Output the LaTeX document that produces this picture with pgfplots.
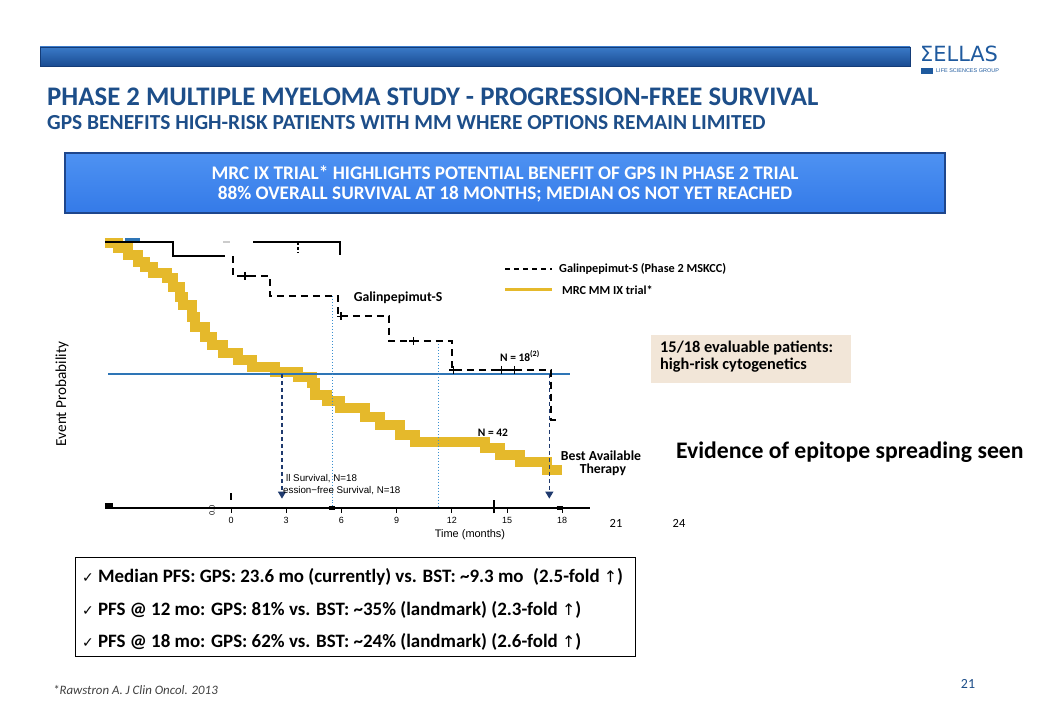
\documentclass[border=0pt]{standalone}
\usepackage{pgfplots}
\pgfplotsset{compat=1.18}
\usepackage{fontspec}
\setmainfont{Carlito}
\newfontfamily\hv{Liberation Sans}
\newfontfamily\dejavu{DejaVu Sans}
\usetikzlibrary{arrows.meta}
\definecolor{titleblue}{HTML}{1D4E89}
\definecolor{logoblue}{RGB}{31,90,158}
\definecolor{bannertop}{RGB}{58,122,200}
\definecolor{bannerbot}{RGB}{26,76,146}
\definecolor{bannerline}{RGB}{20,60,120}
\definecolor{boxtop}{RGB}{78,146,242}
\definecolor{boxbot}{RGB}{52,122,232}
\definecolor{boxline}{RGB}{30,70,140}
\definecolor{mrcyellow}{HTML}{E5B92B}
\definecolor{medblue}{HTML}{2E75B6}
\definecolor{dotblue}{HTML}{3A8FD0}
\definecolor{navy}{HTML}{1F3A6E}
\definecolor{beige}{HTML}{F2E6D8}
\newcommand\fs[1]{\fontsize{#1}{#1}\selectfont}
\newcommand\chk{{\dejavu\mdseries\fs{14}✓}}
\newcommand\up{{\dejavu\mdseries\fs{16}↑}}
\begin{document}
\begin{tikzpicture}
\useasboundingbox[fill=white] (0,0) rectangle (1040bp,720bp);

\begin{axis}[
  at={(105bp,212bp)}, anchor=south west,
  scale only axis, width=485bp, height=268bp,
  xmin=-6.848, xmax=19.51, ymin=0, ymax=1,
  axis x line*=bottom, axis y line=none,
  x axis line style={line width=2.4bp,-},
  xtick={0,3,...,18}, tick align=outside,
  major tick length=5bp,
  tick style={line width=1bp,black},
  xticklabel style={font=\hv\fs{9}, yshift=-1bp},
  /pgf/number format/assume math mode=true,
  clip=false,
]
% MRC MM IX trial
\addplot[const plot, mrcyellow, line width=9.5bp] coordinates {
  (-6.85,0.989) (-6.14,0.970) (-5.60,0.944) (-5.05,0.918) (-4.67,0.899)
  (-4.24,0.877) (-3.48,0.858) (-3.15,0.825) (-2.77,0.787) (-2.61,0.757)
  (-2.12,0.713) (-1.96,0.675) (-1.41,0.638) (-1.03,0.608) (-0.43,0.578)
  (0.38,0.552) (1.14,0.526) (2.39,0.507) (3.64,0.489) (4.40,0.466)
  (4.57,0.422) (5.22,0.399) (5.92,0.373) (7.28,0.340) (8.10,0.310)
  (9.18,0.272) (10.0,0.246) (13.80,0.224) (14.62,0.198) (15.71,0.172)
  (17.17,0.142) (17.99,0.142)
};
% median line
\addplot[medblue, line width=1.2bp] coordinates {(-6.68,0.5) (18.42,0.5)};
% dotted verticals
\addplot[dotblue, dotted, line width=1bp] coordinates {(5.49,0.791) (5.49,0)};
\addplot[dotblue, dotted, line width=1bp] coordinates {(11.25,0.623) (11.25,0)};
% dashed arrows
\addplot[navy, dash pattern=on 4bp off 3bp, line width=1.2bp, -{Triangle[length=7bp,width=8bp]}] coordinates {(2.77,0.5) (2.77,0.035)};
\addplot[navy, dash pattern=on 4bp off 3bp, line width=1.2bp, -{Triangle[length=7bp,width=8bp]}] coordinates {(17.3,0.5) (17.3,0.035)};
% black solid OS fragments
\addplot[black, line width=2bp] coordinates {(-6.85,0.993) (-3.15,0.993) (-3.15,0.94) (-0.33,0.94)};
\addplot[black, line width=1.5bp] coordinates {(1.2,0.993) (5.92,0.993) (5.92,0.945)};
\addplot[black, line width=1.2bp, dash pattern=on 3bp off 2bp] coordinates {(3.64,0.993) (3.64,0.955)};
\addplot[gray!40, line width=1.5bp] coordinates {(-0.43,0.993) (-0.05,0.993)};
\addplot[medblue, line width=3bp] coordinates {(-5.76,1.0) (-4.95,1.0)};
% Galinpepimut-S
\addplot[const plot, black, line width=2.2bp, dash pattern=on 7bp off 5bp] coordinates {
  (0.1,0.94) (0.1,0.866) (2.1,0.791) (5.8,0.716) (8.6,0.623) (12.0,0.515) (17.4,0.328) (17.7,0.328)
};
\addplot[only marks, mark=+, mark size=4bp, black, line width=1.2bp] coordinates {
  (0.76,0.866) (5.98,0.716) (9.9,0.623) (12.07,0.515) (14.7,0.515) (15.4,0.515)
};
% axis decorations
\addplot[black, line width=4bp] coordinates {(-6.85,0.012) (-6.41,0.012)};
\addplot[black, line width=4bp] coordinates {(5.3,0.0) (5.65,0.0)};
\addplot[black, line width=4bp] coordinates {(17.7,0.0) (18.05,0.0)};
\addplot[black, line width=1.6bp] coordinates {(0,0.03) (0,0.055)};
\addplot[black, line width=1.6bp] coordinates {(14.3,-0.02) (14.3,0.03)};
\node[rotate=90, font=\hv\fs{7.5}] at (-1.03,-0.01) {0.0};
\end{axis}

\begin{scope}[shift={(0,720bp)}, x=1bp, y=-1bp]
% banner
\shade[top color=bannertop, bottom color=bannerbot, draw=bannerline, line width=0.6bp] (40,47) rectangle (910,66);
\node[anchor=west, text=logoblue, inner sep=0] at (920,54) {\dejavu\fs{21}ΣELLAS};
\fill[logoblue] (921,68) rectangle (933,74);
\node[anchor=west, font=\hv\fs{5.5}, text=logoblue, inner sep=0] at (936,71) {LIFE SCIENCES GROUP};
% titles
\node[anchor=west, inner sep=0, text=titleblue, font=\bfseries\fs{26.9}] at (47,97) {PHASE 2 MULTIPLE MYELOMA STUDY - PROGRESSION-FREE SURVIVAL};
\node[anchor=west, inner sep=0, text=titleblue, font=\bfseries\fs{21.5}] at (47,123) {GPS BENEFITS HIGH-RISK PATIENTS WITH MM WHERE OPTIONS REMAIN LIMITED};
% blue box
\shade[top color=boxtop, bottom color=boxbot, draw=boxline, line width=1.2bp] (65,153) rectangle (945,213);
\node[text=white, font=\bfseries\fs{19.3}, inner sep=0] at (505,173) {MRC IX TRIAL* HIGHLIGHTS POTENTIAL BENEFIT OF GPS IN PHASE 2 TRIAL};
\node[text=white, font=\bfseries\fs{19.3}, inner sep=0] at (505,194) {88\% OVERALL SURVIVAL AT 18 MONTHS; MEDIAN OS NOT YET REACHED};
% chart texts
\node[rotate=90, font=\fs{15.3}] at (62,394) {Event Probability};
\node[font=\bfseries\fs{13.8}] at (398,298) {Galinpepimut-S};
\node[font=\bfseries\fs{11.5}] at (520,356) {N = 18\textsuperscript{(2)}};
\node[font=\bfseries\fs{11.5}] at (493,433) {N = 42};
\node[font=\bfseries\fs{13.8}, align=center, inner sep=0] at (601,463) {Best Available\\[-1bp]\;Therapy};
\draw[black, line width=1.3bp, dash pattern=on 5bp off 4bp] (505,269) -- (552,269);
\node[anchor=west, font=\bfseries\fs{12.3}, inner sep=0] at (559,269) {Galinpepimut-S (Phase 2 MSKCC)};
\draw[mrcyellow, line width=3bp] (505,290) -- (552,290);
\node[anchor=west, font=\bfseries\fs{12.3}, inner sep=0] at (562,290) {MRC MM IX trial*};
\node[anchor=west, font=\hv\fs{9.8}, inner sep=0] at (286,479) {ll Survival, N=18};
\node[anchor=west, font=\hv\fs{9.8}, inner sep=0] at (283,491) {ession−free Survival, N=18};
\node[font=\hv\fs{11}] at (470,535) {Time (months)};
\node[font=\fs{12.5}] at (616,523) {21};
\node[font=\fs{12.5}] at (679,523) {24};
% beige box
\fill[beige] (651,335) rectangle (851,383);
\node[anchor=north west, align=left, font=\bfseries\fs{16.4}, inner sep=0] at (660,341) {15/18 evaluable patients:\\high-risk cytogenetics};
\node[anchor=west, font=\bfseries\fs{23.8}, inner sep=0] at (676,452) {Evidence of epitope spreading seen};
% bottom box
\draw[black, line width=1bp, fill=white] (75,558) rectangle (635,657);
\node[anchor=west, font=\bfseries\fs{19}, inner sep=0] at (82,577) {\chk{} Median PFS: GPS: 23.6 mo (currently) vs. BST: \textasciitilde 9.3 mo\enspace(2.5-fold \up)};
\node[anchor=west, font=\bfseries\fs{19}, inner sep=0] at (82,610) {\chk{} PFS @ 12 mo: GPS: 81\% vs. BST: \textasciitilde 35\% (landmark) (2.3-fold \up)};
\node[anchor=west, font=\bfseries\fs{19}, inner sep=0] at (82,642) {\chk{} PFS @ 18 mo: GPS: 62\% vs. BST: \textasciitilde 24\% (landmark) (2.6-fold \up)};
% footer
\node[anchor=west, font=\itshape\fs{12.9}, text=black!75, inner sep=0] at (53,690) {*Rawstron A. J Clin Oncol. 2013};
\node[font=\fs{14}, text=titleblue] at (968,684) {21};
\end{scope}
\end{tikzpicture}
\end{document}
